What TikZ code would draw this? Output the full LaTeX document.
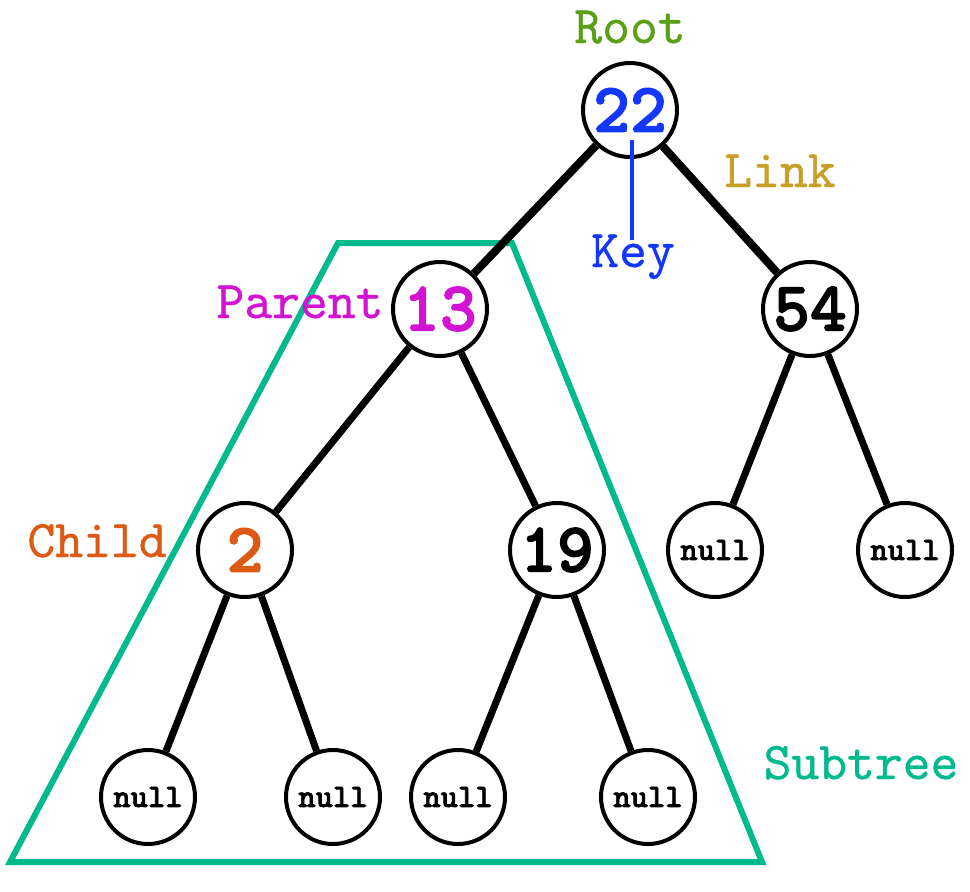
\documentclass[tikz,border=0pt]{standalone}
\usepackage{fontspec}
\newfontfamily\monoreg{lmmono10-regular.otf}[FakeBold=0.7]
\newfontfamily\monobold{lmmonolt10-bold.otf}[FakeBold=2]
\definecolor{rootgreen}{RGB}{90,160,20}
\definecolor{keyblue}{RGB}{20,55,255}
\definecolor{linkgold}{RGB}{200,160,40}
\definecolor{parentmag}{RGB}{210,20,210}
\definecolor{childorange}{RGB}{220,90,20}
\definecolor{subteal}{RGB}{0,185,140}
\begin{document}
\begin{tikzpicture}[x=1pt,y=-1pt,
  treenode/.style={circle,draw=black,line width=4pt,fill=white,minimum size=94pt,inner sep=0pt,font=\monobold\fontsize{70}{70}\selectfont},
  nullnode/.style={treenode,font=\monobold\fontsize{33}{33}\selectfont},
  edge/.style={line width=7pt,black},
  rootedge/.style={line width=8pt,black},
  lbl/.style={font=\monoreg\fontsize{53}{53}\selectfont,inner sep=0pt,anchor=base}]
\useasboundingbox (0,0) rectangle (970,892);
% subtree trapezoid
\coordinate (tl) at (338,243);
\coordinate (tr) at (512,243);
\coordinate (br) at (762,862);
\coordinate (bl) at (10,862);
\draw[subteal,line width=6pt,line join=miter] (tl) -- (tr) -- (br) -- (bl) -- cycle;
% nodes
\node[treenode,text=keyblue] (n22) at (630,110) {22};
\node[treenode,text=parentmag] (n13) at (440,309) {13};
\node[treenode] (n54) at (810,309) {54};
\node[treenode,text=childorange] (n2) at (245,550) {2};
\node[treenode] (n19) at (557,550) {19};
\node[nullnode] (u1) at (148,797) {null};
\node[nullnode] (u2) at (333,797) {null};
\node[nullnode] (u3) at (458,797) {null};
\node[nullnode] (u4) at (648,797) {null};
\node[nullnode] (u5) at (715,550) {null};
\node[nullnode] (u6) at (905,550) {null};
% edges
\draw[rootedge] (n22) -- (n13);
\draw[rootedge] (n22) -- (n54);
\draw[edge] (n13) -- (n2);
\draw[edge] (n13) -- (n19);
\draw[edge] (n2) -- (u1);
\draw[edge] (n2) -- (u2);
\draw[edge] (n19) -- (u3);
\draw[edge] (n19) -- (u4);
\draw[edge] (n54) -- (u5);
\draw[edge] (n54) -- (u6);
% labels
\node[lbl,text=rootgreen] (lroot) at (630,43) {Root};
\node[lbl,text=linkgold] (llink) at (780,187) {Link};
\node[lbl,text=keyblue] (lkey) at (633,267) {Key};
\node[lbl,text=parentmag] (lparent) at (300,318) {Parent};
\node[lbl,text=childorange] (lchild) at (97,557) {Child};
\node[lbl,text=subteal] (lsub) at (861,779) {Subtree};
\coordinate (keytop) at (632,140);
\coordinate (keybot) at (632,240);
\draw[keyblue,line width=4pt] (keytop) -- (keybot);
\end{tikzpicture}
\end{document}
